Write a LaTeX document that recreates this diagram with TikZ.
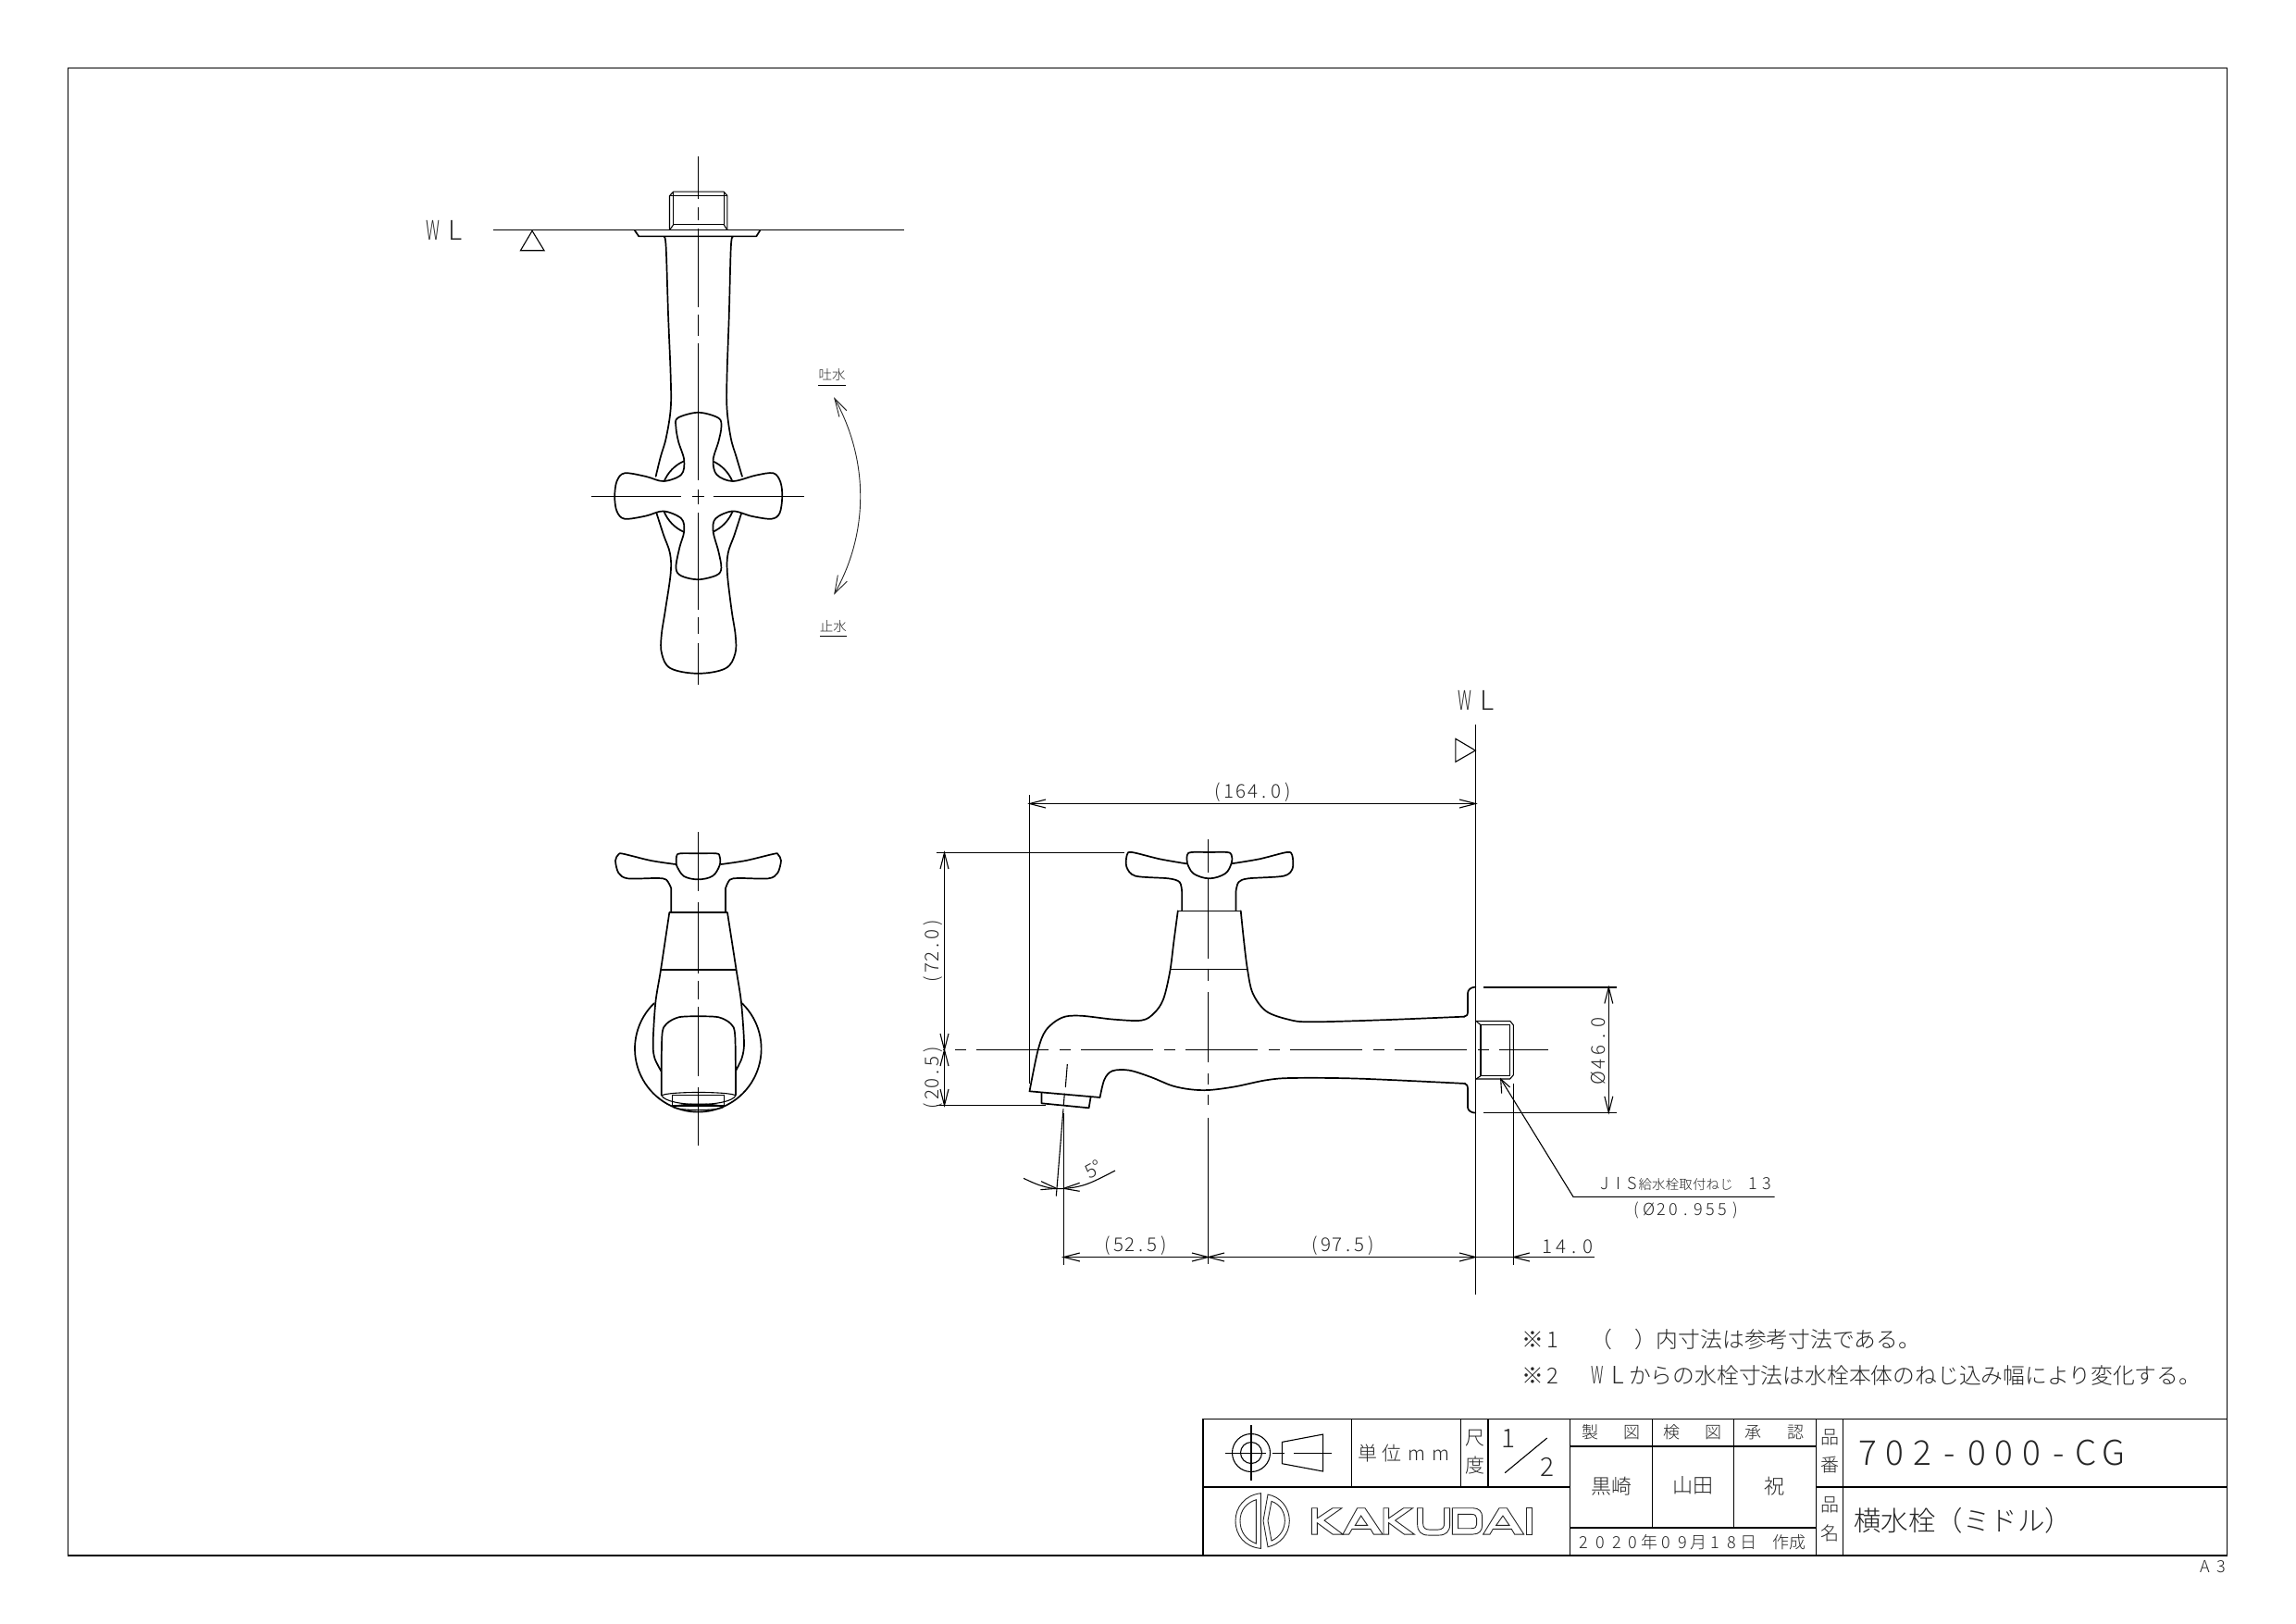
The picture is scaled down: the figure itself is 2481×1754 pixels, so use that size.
\documentclass[tikz,border=0pt]{standalone}
\usepackage{fontspec}
\usepackage{graphicx}
\setmainfont{Noto Sans CJK JP}[UprightFont=* Light]
\makeatletter
\newcommand\cad[2]{\def\cadp{#1}\@tfor\cadc:=#2\do{\makebox[\cadp][c]{\cadc}}}
\makeatother
\newcommand\tipL[2]{\draw[dl] (#1+17.5,#2-4.5) -- (#1,#2) -- (#1+17.5,#2+4.5);}
\newcommand\tipR[2]{\draw[dl] (#1-17.5,#2-4.5) -- (#1,#2) -- (#1-17.5,#2+4.5);}
\newcommand\tipU[2]{\draw[dl] (#1-4.5,#2+17.5) -- (#1,#2) -- (#1+4.5,#2+17.5);}
\newcommand\tipD[2]{\draw[dl] (#1-4.5,#2-17.5) -- (#1,#2) -- (#1+4.5,#2-17.5);}
\tikzset{
  ol/.style={line width=1.7pt,line join=round,line cap=round,black},
  thick2/.style={line width=2.6pt,black},
  dl/.style={line width=1.1pt,black},
  cl/.style={line width=1.1pt,black},
  fr/.style={line width=1.5pt,black},
  lg/.style={line width=0.9pt,black!85},
  cdash/.style={cl,dash pattern=on 78pt off 11.5pt on 12pt off 11.5pt},
  lbl/.style={inner sep=0pt,outer sep=0pt,text=black!85},
  zA/.style={shift={(430,149.5)},x=0.3827pt,y=-0.395pt},
  zB/.style={shift={(620,880)},x=0.3333pt,y=-0.3333pt},
  zC/.style={shift={(990,740)},x=0.4785pt,y=-0.3333pt},
  zD/.style={shift={(990,1050)},x=0.3333pt,y=-0.3333pt},
  zE/.style={shift={(1560,1040)},x=0.3333pt,y=-0.3333pt},
  zF/.style={shift={(1290,1520.7)},x=0.4337pt,y=-0.3333pt},
  zG/.style={shift={(1950,1520.7)},x=0.3333pt,y=-0.3333pt},
  zL/.style={shift={(1325,1605.7)},x=0.3333pt,y=-0.3333pt},
}
\begin{document}
\begin{tikzpicture}[x=1pt,y=-1pt]
\useasboundingbox (0,0) rectangle (2481,1754);
\fill[white] (0,0) rectangle (2481,1754);
% frame
\draw[fr] (73.5,73.5) rectangle (2406.7,1681);

% ---------- top view ----------
\begin{scope}[zA]
\draw[cl] (270,251) -- (1428,251);
\draw[dl] (379,253) -- (346,307) -- (413,307) -- cycle;
\node[lbl,font=\fontsize{29}{29}\selectfont] (wlA) at (130,252) {\cad{24pt}{{\scalebox{.6}[1]{W}}L}};
% flange & thread
\draw[ol] (668,251) -- (680,268) -- (1012,268) -- (1023,251);
\draw[dl] (767,251) -- (767,157) -- (778,146) -- (920,146) -- (930,157) -- (930,251);
\draw[dl] (767,157) -- (930,157);
\draw[dl] (778,146) -- (778,236) -- (920,236) -- (920,146);
\draw[dl] (767,251) -- (778,236) (930,251) -- (920,236);
% body
\draw[ol] plot[smooth,tension=.6] coordinates {(752,270)(757,300)(763,480)(770,650)(770,740)(757,820)(742,870)(728,925)};
\draw[ol] plot[smooth,tension=.6] coordinates {(945,270)(940,300)(935,480)(929,650)(929,740)(940,820)(955,870)(972,925)};
\draw[ol] plot[smooth,tension=.6] coordinates {(730,1025)(750,1085)(768,1135)(770,1190)(755,1290)(744,1360)(745,1410)(770,1450)(848,1464)(925,1450)(952,1410)(953,1360)(942,1290)(930,1190)(932,1135)(950,1085)(970,1025)};
% inner circle
\draw[ol] (848,980) circle[x radius=105,y radius=105];
% handle
\draw[ol,fill=white] plot[smooth cycle,tension=.55] coordinates {
 (790,765)(848,750)(905,765)(913,790)(905,830)(890,880)(900,920)(945,938)(1010,922)(1060,916)(1080,940)(1085,980)(1078,1025)(1055,1041)(1000,1034)(945,1020)(897,1040)(890,1075)(905,1130)(913,1175)(900,1195)(848,1207)(800,1197)(785,1175)(795,1120)(808,1075)(800,1040)(750,1020)(700,1033)(640,1041)(618,1020)(612,980)(618,938)(640,916)(700,925)(750,938)(800,920)(808,880)(792,830)(785,790)};
% centre lines
\foreach \a/\b in {50/165,188/224,248/462,482/540,560/935,960/1000,1025/1290,1310/1355,1380/1495}
  \draw[cl] (848,\a) -- (848,\b);
\draw[cl] (545,980) -- (800,980) (830,980) -- (865,980) (890,980) -- (1148,980);
% rotation arrow
\draw[lg] (1233,712) .. controls (1330,880) and (1330,1080) .. (1233,1245);
\draw[lg] (1267,745) -- (1233,712) -- (1246,762);
\draw[lg] (1268,1212) -- (1233,1245) -- (1242,1195);
\node[lbl,font=\fontsize{14.5}{14.5}\selectfont] (tosui) at (1226,648) {吐水};
\draw[dl] (1187,677) -- (1265,677);
\node[lbl,font=\fontsize{14.5}{14.5}\selectfont] (shisui) at (1229,1335) {止水};
\draw[dl] (1191,1363) -- (1268,1363);
\end{scope}

% ---------- front view ----------
\begin{scope}[zB]
\draw[ol] plot[domain=134:406,samples=70] ({403+205*cos(\x)},{760-205*sin(\x)});
\draw[ol] plot[smooth,tension=.5] coordinates {(330,162)(250,150)(160,128)(145,130)(135,150)(145,190)(175,208)(270,207)(300,212)(316,240)} -- (316,318);
\draw[ol] plot[smooth,tension=.5] coordinates {(478,162)(558,150)(650,128)(662,130)(672,150)(661,190)(631,208)(536,207)(506,212)(492,240)} -- (492,318);
\draw[ol] plot[smooth,tension=.6] coordinates {(333,165)(333,137)(345,127)(403,127)(462,127)(473,137)(473,165)(450,200)(403,211)(356,200)(333,165)};
\draw[thick2] (310,318) -- (498,318);
\draw[thick2] (282,504) -- (527,504);
\draw[ol] plot[smooth,tension=.5] coordinates {(310,318)(282,505)(265,610)(257,740)(262,790)(283,832)};
\draw[ol] plot[smooth,tension=.5] coordinates {(498,318)(527,505)(543,610)(552,740)(545,790)(525,832)};
\draw[ol] plot[smooth,tension=.5] coordinates {(284,910)(286,720)(300,680)(340,658)(403,655)(470,658)(510,680)(523,720)(525,910)};
\draw[dl] (285,912) .. controls (300,898) and (510,898) .. (525,912);
\draw[dl] (285,912) .. controls (305,950) and (505,950) .. (525,912);
\draw[dl] (320,910) rectangle (487,945);
\draw[dl] (322,949) .. controls (340,936) and (468,936) .. (486,949);
\draw[dl] (322,949) .. controls (340,962) and (468,962) .. (486,949);
\foreach \a/\b in {58/250,285/515,540/600,625/850,885/1075}
  \draw[cl] (403,\a) -- (403,\b);
\end{scope}

% ---------- side view ----------
\begin{scope}[zC]
\draw[ol] plot[smooth,tension=.55] coordinates {(256,1318)(275,1185)(293,1120)(328,1080)(369,1073)(446,1085)(509,1088)(537,1065)(558,1020)(573,930)(582,830)(591,733)};
\draw[ol] plot[smooth,tension=.55] coordinates {(733,733)(740,830)(748,922)(760,1000)(790,1058)(840,1085)(890,1093)(1050,1087)(1238,1076)};
\draw[ol] plot[smooth,tension=.55] coordinates {(415,1338)(425,1280)(443,1252)(481,1250)(530,1272)(578,1300)(620,1312)(662,1314)(720,1303)(790,1282)(850,1275)(1000,1277)(1240,1293)};
\draw[ol] (256,1318) -- (415,1338);
\draw[ol] (283,1323) -- (283,1357) -- (390,1372) -- (394,1338);
\draw[dl] (591,733) -- (733,733) (575,922) -- (748,922);
\draw[ol] plot[smooth,tension=.5] coordinates {(610,580)(550,565)(487,543)(476,552)(475,590)(495,620)(570,628)(595,640)(600,670)} -- (600,733);
\draw[ol] plot[smooth,tension=.5] coordinates {(712,580)(775,565)(837,543)(849,552)(850,595)(830,620)(750,628)(728,640)(722,670)} -- (722,733);
\draw[ol] plot[smooth,tension=.6] coordinates {(612,578)(612,552)(622,543)(662,543)(702,543)(712,552)(712,578)(698,612)(662,628)(626,612)(612,578)};
\draw[dl] (1218,175) -- (1263,213) -- (1218,250) -- cycle;
\node[lbl,font=\fontsize{29}{29}\selectfont] (wlB) at (1265,52) {\cad{24pt}{{\scalebox{.6}[1]{W}}L}};
\end{scope}
% flange and thread
\begin{scope}[zE]
\draw[ol] (66,176) .. controls (75,175) and (78,170) .. (78,160) -- (78,100) .. controls (78,88) and (90,80) .. (103,80);
\draw[ol] (66,392) .. controls (75,393) and (78,400) .. (78,410) -- (78,470) .. controls (78,480) and (90,488) .. (103,488);
\draw[dl] (105,190) -- (215,190) -- (226,203) -- (226,365) -- (215,378) -- (105,378);
\draw[dl] (105,190) -- (120,203) (105,378) -- (120,368);
\draw[dl] (120,203) -- (215,203);
\draw[dl] (120,200) -- (120,368) -- (215,368) (215,200) -- (215,368);
\draw[dl] (130,81) -- (560,81) (130,487) -- (560,487);
\draw[dl] (535,81) -- (535,487);
\draw[dl] (226,392) -- (226,980);
\draw[dl] (1073,760) -- (420,760) -- (185,378);
\draw[dl] (188,425) -- (185,378) -- (215,405);
\node[lbl,font=\fontsize{18}{18}\selectfont] (jis) at (785,718) {\cad{14.6pt}{JIS}\fontsize{14.4}{14.4}\selectfont\cad{14.6pt}{給水栓取付ねじ}\fontsize{18}{18}\selectfont\cad{14.6pt}{~13}};
\node[lbl,font=\fontsize{18}{18}\selectfont] (phi) at (785,805) {\cad{13.3pt}{(Ø20.955)}};
\end{scope}
% spout details
\begin{scope}[zD]
\draw[dl] (490,300) -- (484,375) (481,395) -- (478,432) (477,445) -- (454,728);
\draw[dl] (478,460) -- (478,950);
\draw[dl] plot[smooth,tension=.6] coordinates {(348,670)(405,694)(466,704)(550,690)(645,645)};
\draw[dl] (405,680) -- (455,703) -- (403,707);
\draw[dl] (530,685) -- (478,703) -- (530,712);
\node[lbl,rotate=28,font=\fontsize{20.5}{20.5}\selectfont] (deg) at (575,640) {5°};
\end{scope}
% centre lines of side view
\draw[cdash,dash phase=25pt] (1673,1134.5) -- (1019,1134.5);
\foreach \a/\b in {906.7/943,949/1036,1046.7/1060,1072/1148,1160/1172,1183/1194,1208/1366}
  \draw[cl] (1305.5,\a) -- (1305.5,\b);
\draw[dl] (1594.5,783) -- (1594.5,1399);
% dimensions
\draw[dl] (1112.5,859) -- (1112.5,1171);
\draw[dl] (1112.5,868.5) -- (1594.5,868.5);
\tipL{1112.5}{868.5} \tipR{1594.5}{868.5}
\node[lbl,font=\fontsize{20.5}{20.5}\selectfont] (d164) at (1353.6,855.7) {\cad{12.6pt}{(164.0)}};
\draw[dl] (1011.5,921.5) -- (1215,921.5);
\draw[dl] (1011.5,1194.5) -- (1130,1194.5);
\draw[dl] (1020.5,921.5) -- (1020.5,1194.5);
\tipU{1020.5}{921.5} \tipD{1020.5}{1134.5} \tipU{1020.5}{1134.5} \tipD{1020.5}{1194.5}
\node[lbl,rotate=90,font=\fontsize{20.5}{20.5}\selectfont] (d72) at (1008.5,1028) {\cad{12.3pt}{(72.0)}};
\node[lbl,rotate=90,font=\fontsize{20.5}{20.5}\selectfont] (d20) at (1008.5,1165) {\cad{12.3pt}{(20.5)}};
\draw[dl] (1149.3,1358.5) -- (1722.7,1358.5);
\tipL{1149.3}{1358.5} \tipR{1305.5}{1358.5} \tipL{1305.5}{1358.5} \tipR{1594.5}{1358.5} \tipL{1635.3}{1358.5}
\node[lbl,font=\fontsize{20.5}{20.5}\selectfont] (d52) at (1227,1346) {\cad{12.3pt}{(52.5)}};
\node[lbl,font=\fontsize{20.5}{20.5}\selectfont] (d97) at (1451,1346) {\cad{12.3pt}{(97.5)}};
\node[lbl,font=\fontsize{20.5}{20.5}\selectfont] (d14) at (1694,1347) {\cad{14.5pt}{14.0}};
\tipU{1738.3}{1067} \tipD{1738.3}{1202.3}
\node[lbl,rotate=90,font=\fontsize{20.5}{20.5}\selectfont] (d46) at (1726.5,1135) {\cad{15pt}{Ø46.0}};

% ---------- notes ----------
\node[lbl,anchor=west,font=\fontsize{23.8}{23.8}\selectfont] (n1a) at (1645,1447.5) {\cad{22pt}{※1}};
\node[lbl,anchor=west,font=\fontsize{23.8}{23.8}\selectfont] (n1b) at (1718.5,1447.5) {（　）内寸法は参考寸法である。};
\node[lbl,anchor=west,font=\fontsize{23.8}{23.8}\selectfont] (n2a) at (1645,1486.5) {\cad{22pt}{※2}};
\node[lbl,anchor=west,font=\fontsize{26}{26}\selectfont] (n2b) at (1715,1486.5) {\cad{22pt}{{\scalebox{.6}[1]{W}}L}};
\node[lbl,anchor=west,font=\fontsize{23.8}{23.8}\selectfont] (n2c) at (1760,1486.5) {からの水栓寸法は水栓本体のねじ込み幅により変化する。};

% ---------- title block ----------
\begin{scope}[zF]
\draw[fr] (23,481) -- (23,38) -- (2575,38);
\draw[fr] (23,259) -- (937,259);
\draw[fr] (393,38) -- (393,259) (665,38) -- (665,259) (937,38) -- (937,481) (1142,38) -- (1142,391) (1345,38) -- (1345,391) (1550,38) -- (1550,481);
\draw[thick2] (733,38) -- (733,259);
\draw[fr] (937,127) -- (1550,127) (937,391) -- (1550,391);
% projection symbol
\draw[cl] (143,58) -- (143,238) (78,148) -- (180,148) (195,148) -- (225,148) (250,148) -- (343,148);
\draw[cl] (220,113) -- (322,88) -- (322,208) -- (220,183) -- cycle;
\node[lbl,font=\fontsize{21}{21}\selectfont] (unit) at (525,148) {\cad{26.5pt}{単位mm}};
\node[lbl,font=\fontsize{21}{21}\selectfont] (shaku) at (700,100) {尺};
\node[lbl,font=\fontsize{21}{21}\selectfont] (dokuu) at (700,190) {度};
\node[lbl,font=\fontsize{28}{28}\selectfont] (sc1) at (785,103) {1};
\node[lbl,font=\fontsize{28}{28}\selectfont] (sc2) at (880,195) {2};
\draw[cl] (880,100) -- (775,213);
\foreach \n/\x/\t in {ta/987/製,tb/1092/図,tc/1190/検,td/1295/図,te/1393/承,tf/1500/認}
  \node[lbl,font=\fontsize{18}{18}\selectfont] (\n) at (\x,82) {\t};
\node[lbl,font=\fontsize{22}{22}\selectfont] (kuro) at (1042,255) {黒崎};
\node[lbl,font=\fontsize{22}{22}\selectfont] (yama) at (1245,253) {山田};
\node[lbl,font=\fontsize{22}{22}\selectfont] (iwai) at (1447,255) {祝};
\node[lbl,font=\fontsize{18}{18}\selectfont] (date) at (1238,437) {\cad{17.8pt}{2020年09月18日~作成}};
\end{scope}
\draw[cl] (1352,1570) circle[radius=20.5];
\draw[cl] (1352,1570) circle[radius=11.5];
\begin{scope}[zL]
\draw[lg] (112,24) .. controls (60,30) and (30,70) .. (30,113) .. controls (30,160) and (60,198) .. (112,203) -- cycle;
\draw[lg] (97,45) .. controls (65,55) and (45,80) .. (45,113) .. controls (45,150) and (65,175) .. (97,187) -- cycle;
\draw[lg] (135,28) .. controls (175,35) and (205,70) .. (205,113) .. controls (205,155) and (175,190) .. (135,198) -- (120,113) -- cycle;
\draw[lg] (147,50) .. controls (175,60) and (190,85) .. (190,113) .. controls (190,140) and (175,165) .. (147,178) -- (135,113) -- cycle;
% K
\draw[lg] (277,72) -- (295,72) -- (295,105) -- (345,72) -- (375,72) -- (318,112) -- (378,157) -- (345,157) -- (295,120) -- (295,157) -- (277,157) -- cycle;
% A
\draw[lg] (378,157) -- (425,72) -- (450,72) -- (507,157) -- (478,157) -- (468,140) -- (408,140) -- (398,157) -- cycle;
\draw[lg] (437,97) -- (418,128) -- (458,128) -- cycle;
% K
\draw[lg] (510,72) -- (527,72) -- (527,105) -- (575,72) -- (605,72) -- (548,112) -- (610,157) -- (577,157) -- (527,120) -- (527,157) -- (510,157) -- cycle;
% U
\draw[lg] (620,72) -- (638,72) -- (638,122) .. controls (638,135) and (645,142) .. (658,142) -- (687,142) .. controls (700,142) and (707,135) .. (707,122) -- (707,72) -- (725,72) -- (725,125) .. controls (725,148) and (712,160) .. (690,160) -- (655,160) .. controls (633,160) and (620,148) .. (620,125) -- cycle;
% D
\draw[lg] (733,72) -- (800,72) .. controls (820,72) and (830,85) .. (830,100) -- (830,128) .. controls (830,145) and (820,157) .. (800,157) -- (733,157) -- cycle;
\draw[lg] (752,92) -- (795,92) .. controls (807,92) and (812,98) .. (812,106) -- (812,125) .. controls (812,133) and (807,138) .. (795,138) -- (752,138) -- cycle;
% A
\draw[lg] (833,157) -- (885,72) -- (910,72) -- (965,157) -- (935,157) -- (925,140) -- (865,140) -- (855,157) -- cycle;
\draw[lg] (897,97) -- (875,128) -- (918,128) -- cycle;
% I
\draw[lg] (972,72) rectangle (990,157);
\end{scope}
\begin{scope}[zG]
\draw[fr] (124,38) -- (124,481) (37,259) -- (1369,259);
\foreach \n/\y/\t in {ha/97/品,hb/188/番,hc/318/品,hd/410/名}
  \node[lbl,font=\fontsize{20}{20}\selectfont] (\n) at (82,\y) {\t};
\node[lbl,anchor=west,font=\fontsize{37}{37}\selectfont] (pno) at (160,147) {\cad{29.5pt}{702-000-CG}};
\node[lbl,anchor=west,font=\fontsize{29.5}{29.5}\selectfont] (pname) at (160,367) {横水栓（ミドル）};
\node[lbl,font=\fontsize{18}{18}\selectfont] (a3) at (1325,518) {\cad{17pt}{A3}};
\end{scope}
\end{tikzpicture}
\end{document}
